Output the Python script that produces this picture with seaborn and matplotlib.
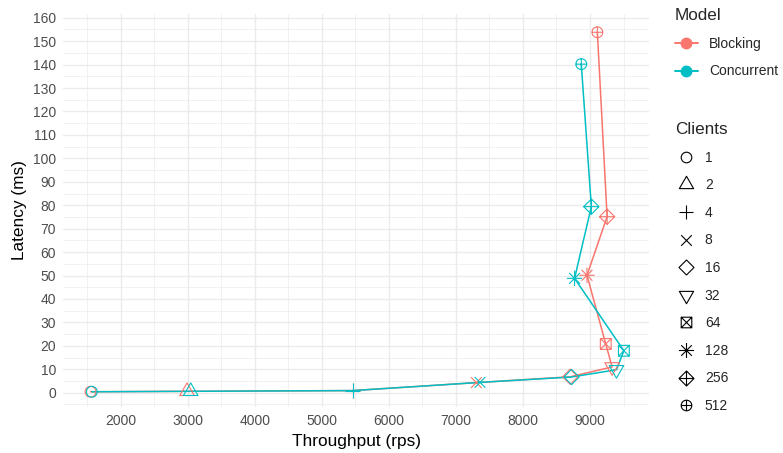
import numpy as np
import pandas as pd
import matplotlib
matplotlib.use("Agg")
import matplotlib.pyplot as plt
from matplotlib.path import Path
from matplotlib.lines import Line2D
from matplotlib.ticker import MultipleLocator
import seaborn as sns

# ---------------- data ----------------
models = ["Blocking", "Concurrent"]
clients = [1, 2, 4, 8, 16, 32, 64, 128, 256, 512]
blocking_throughput = [1550, 2990, 5460, 7305, 8705, 9330, 9235, 8955, 9255, 9110]
blocking_latency = [0.4, 0.6, 0.9, 4.3, 6.8, 11.0, 20.8, 50.1, 75.1, 153.8]
concurrent_throughput = [1570, 3045, 5460, 7360, 8725, 9395, 9505, 8770, 9020, 8870]
concurrent_latency = [0.4, 0.6, 0.9, 4.4, 6.7, 9.8, 17.9, 48.8, 79.4, 140.2]
model_colors = ["#F8766D", "#00BFC4"]

x_ticks = [2000, 3000, 4000, 5000, 6000, 7000, 8000, 9000]
y_ticks = list(range(0, 161, 10))

df = pd.DataFrame({
    "Model": [models[0]] * len(clients) + [models[1]] * len(clients),
    "Clients": [str(c) for c in clients] * 2,
    "Throughput": blocking_throughput + concurrent_throughput,
    "Latency": blocking_latency + concurrent_latency,
})

# ---------------- ggplot-like open marker shapes ----------------
BOUND = 1.6


def _anchor():
    return Path([(BOUND, 0.0)], [Path.MOVETO])


def _poly(pts):
    verts = list(pts) + [pts[0]]
    codes = [Path.MOVETO] + [Path.LINETO] * (len(pts) - 1) + [Path.CLOSEPOLY]
    return Path(verts, codes)


def _seg(a, b):
    return Path([a, b], [Path.MOVETO, Path.LINETO])


def _circle(r=1.0):
    return Path.circle(center=(0, 0), radius=r)


def _shape(*parts):
    return Path.make_compound_path(_anchor(), *parts)


s2 = np.sqrt(2)
tr, tx, ty = 1.555, 1.347, 0.778
shape_paths = {
    "1": _shape(_circle()),
    "2": _shape(_poly([(0, tr), (tx, -ty), (-tx, -ty)])),
    "4": _shape(_seg((-s2, 0), (s2, 0)), _seg((0, -s2), (0, s2))),
    "8": _shape(_seg((-1, -1), (1, 1)), _seg((-1, 1), (1, -1))),
    "16": _shape(_poly([(0, s2), (s2, 0), (0, -s2), (-s2, 0)])),
    "32": _shape(_poly([(0, -tr), (tx, ty), (-tx, ty)])),
    "64": _shape(_poly([(-1, -1), (1, -1), (1, 1), (-1, 1)]),
                 _seg((-1, -1), (1, 1)), _seg((-1, 1), (1, -1))),
    "128": _shape(_seg((-1, -1), (1, 1)), _seg((-1, 1), (1, -1)),
                  _seg((-s2, 0), (s2, 0)), _seg((0, -s2), (0, s2))),
    "256": _shape(_poly([(0, s2), (s2, 0), (0, -s2), (-s2, 0)]),
                  _seg((-s2, 0), (s2, 0)), _seg((0, -s2), (0, s2))),
    "512": _shape(_circle(), _seg((-1, 0), (1, 0)), _seg((0, -1), (0, 1))),
}
client_order = [str(c) for c in clients]

# ---------------- style ----------------
sns.set_style("white")
plt.rcParams["font.family"] = ["Liberation Sans", "DejaVu Sans"]

W, H = 783, 453
fig = plt.figure(figsize=(W / 100, H / 100), dpi=100)
pl, pr, pt, pb = 63, 649, 14, 407
ax = fig.add_axes([pl / W, 1 - pb / H, (pr - pl) / W, (pb - pt) / H])

sns.lineplot(data=df, x="Throughput", y="Latency", hue="Model",
             hue_order=models, palette=model_colors, sort=False,
             estimator=None, linewidth=1.1, legend=False, ax=ax, zorder=3)
sns.scatterplot(data=df, x="Throughput", y="Latency", hue="Model",
                hue_order=models, palette=model_colors, style="Clients",
                style_order=client_order, markers=shape_paths, s=155,
                linewidth=0.8, legend=False, ax=ax, zorder=4)

coll = ax.collections[-1]
fcs = coll.get_facecolors()
coll.set_edgecolors(fcs)
coll.set_facecolors("none")
coll.set_linewidths(0.8)

# axes limits / ticks / grid
ax.set_xlim(1140, 9880)
ax.set_ylim(-6.1, 161.6)
ax.set_xticks(x_ticks)
ax.set_yticks(y_ticks)
ax.xaxis.set_minor_locator(MultipleLocator(500))
ax.yaxis.set_minor_locator(MultipleLocator(5))
ax.grid(which="major", color="#EBEBEB", linewidth=1.0)
ax.grid(which="minor", color="#EBEBEB", linewidth=0.5)
ax.set_axisbelow(True)
for sp in ax.spines.values():
    sp.set_visible(False)
ax.tick_params(which="both", length=0, labelsize=10, labelcolor="#4D4D4D", pad=5)

ax.set_xlabel("Throughput (rps)", fontsize=12.4, color="black")
ax.set_ylabel("Latency (ms)", fontsize=12.4, color="black")
ax.xaxis.set_label_coords(0.5, (pb - 441.7) / (pb - pt))
ax.xaxis.label.set_va("center")
ax.yaxis.set_label_coords((20 - pl) / (pr - pl), 0.5)
ax.yaxis.label.set_va("center")

# ---------------- legends ----------------
model_handles = [Line2D([], [], color=c, lw=1.4, marker="o", markersize=7.5)
                 for c in model_colors]
leg1 = fig.legend(model_handles, models, title="Model", loc="upper left",
                  bbox_to_anchor=(675 / W, 1 - 8.5 / H), frameon=False,
                  fontsize=10, title_fontsize=12.3, alignment="left",
                  borderpad=0, borderaxespad=0, handlelength=1.62,
                  handletextpad=0.82, labelspacing=0.97)

client_handles = [Line2D([], [], ls="none", marker=shape_paths[k],
                         markersize=12.2, markerfacecolor="none",
                         markeredgecolor="black", markeredgewidth=0.8)
                  for k in client_order]
leg2 = fig.legend(client_handles, client_order, title="Clients",
                  loc="upper left", bbox_to_anchor=(675 / W, 1 - 122 / H),
                  frameon=False, fontsize=10, title_fontsize=12.3,
                  alignment="left", borderpad=0, borderaxespad=0,
                  handlelength=1.62, handletextpad=0.53, labelspacing=0.98)

fig.savefig("out.png", dpi=100)
